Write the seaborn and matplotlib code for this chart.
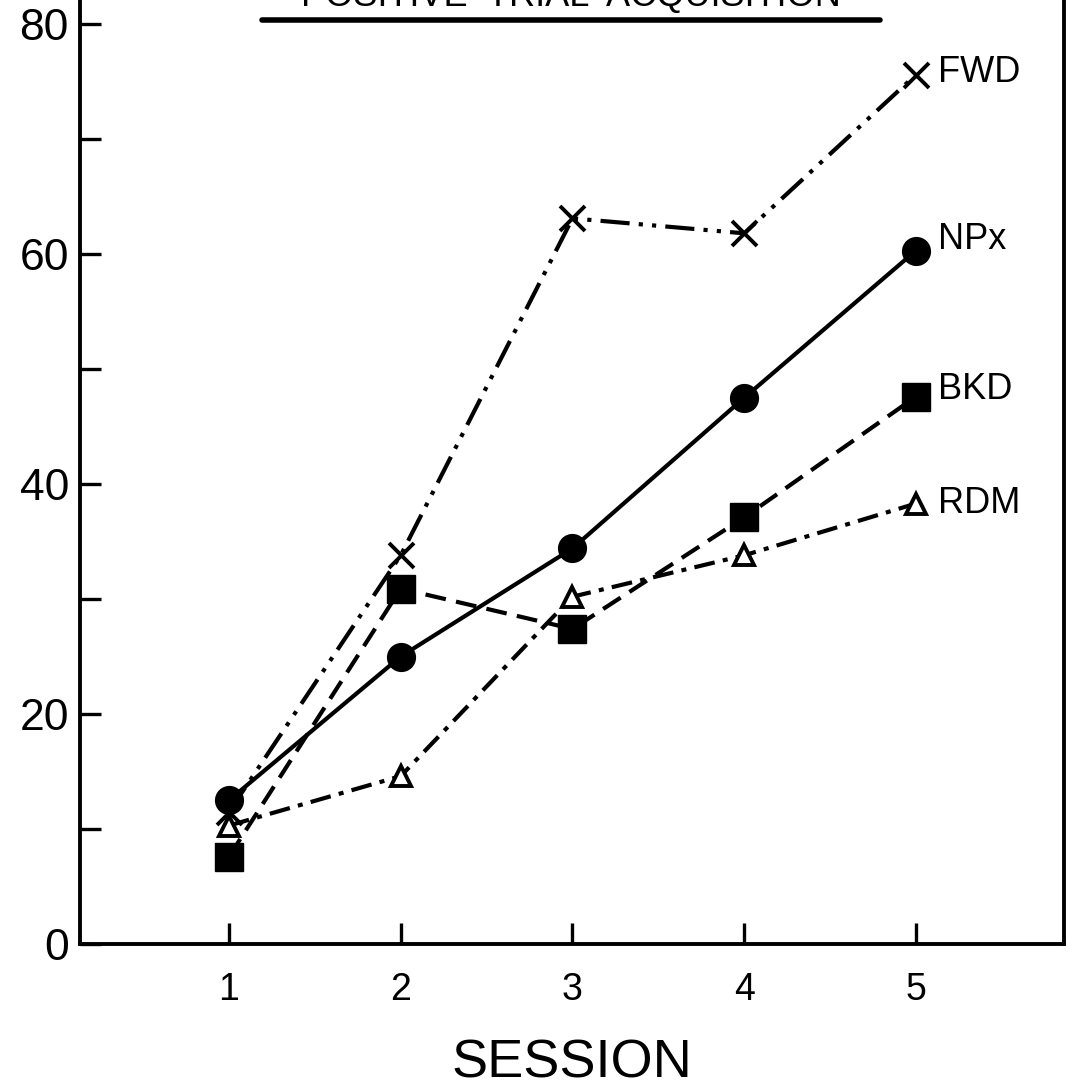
import matplotlib
matplotlib.use("Agg")
import matplotlib.pyplot as plt
from matplotlib.lines import Line2D
import pandas as pd
import seaborn as sns

# Data
sessions = [1, 2, 3, 4, 5]
fwd = [11.5, 33.8, 63.1, 61.8, 75.6]
npx = [12.5, 25.0, 34.4, 47.5, 60.3]
bkd = [7.6, 30.9, 27.4, 37.1, 47.6]
rdm = [10.3, 14.6, 30.2, 33.8, 38.3]

groups = ["FWD", "NPx", "BKD", "RDM"]
values = [fwd, npx, bkd, rdm]

yticks = [0, 20, 40, 60, 80]
yminor = [10, 30, 50, 70]

df = pd.DataFrame({
    "session": sessions * len(groups),
    "score": [v for vals in values for v in vals],
    "group": [g for g in groups for _ in sessions],
})

sns.set_theme(style="white")
plt.rcParams["font.family"] = ["Liberation Sans", "DejaVu Sans"]
plt.rcParams["text.color"] = "black"
plt.rcParams["xtick.color"] = "black"
plt.rcParams["ytick.color"] = "black"
plt.rcParams["axes.labelcolor"] = "black"

fig = plt.figure(figsize=(10.74, 10.87), dpi=100)
ax = fig.add_axes([80 / 1074, 143 / 1087, 984 / 1074, 944 / 1087])

styles = {
    "FWD": dict(marker="x", linestyle=(0, (7, 2.2, 1, 2.2, 1, 2.2)), ms=18, mfc="black", mew=2.8),
    "NPx": dict(marker="o", linestyle="-", ms=20, mfc="black", mew=1),
    "BKD": dict(marker="s", linestyle=(0, (5, 2.5)), ms=20, mfc="black", mew=1),
    "RDM": dict(marker="^", linestyle=(0, (5, 2, 1.2, 2)), ms=15, mfc="white", mew=2.8),
}

for g in groups:
    st = styles[g]
    sns.lineplot(data=df[df["group"] == g], x="session", y="score", ax=ax,
                 color="black", linewidth=3.0, marker=st["marker"],
                 linestyle=st["linestyle"], markersize=st["ms"],
                 markerfacecolor=st["mfc"], markeredgecolor="black",
                 markeredgewidth=st["mew"], legend=False)

# Series labels at the right end
label_offsets = {"FWD": 0.2, "NPx": 1.0, "BKD": 0.6, "RDM": 0.0}
for g, vals in zip(groups, values):
    ax.text(5.13, vals[-1] + label_offsets[g], g, fontsize=26, va="center", ha="left")

ax.set_xlim(0.1325, 5.862)
ax.set_ylim(0, 82.09)
ax.set_xticks(sessions)
ax.set_xticklabels([str(s) for s in sessions])
ax.set_yticks(yticks)
ax.set_yticklabels([str(t) for t in yticks])
ax.set_yticks(yminor, minor=True)

ax.tick_params(axis="both", which="both", direction="in", length=15, width=2.4,
               color="black", left=True, bottom=True)
ax.tick_params(axis="y", labelsize=32, pad=8)
ax.tick_params(axis="x", labelsize=27, pad=20)

for side in ["left", "bottom", "right"]:
    ax.spines[side].set_color("black")
    ax.spines[side].set_linewidth(2.8)
ax.spines["top"].set_visible(False)

ax.set_xlabel("SESSION", fontsize=39, labelpad=22)
ax.set_ylabel("")

# Title cut at the top edge, underlined
fig.text(571 / 1074, 1 - 6 / 1087, "POSITIVE  TRIAL  ACQUISITION", fontsize=26,
         ha="center", va="baseline")
fig.add_artist(Line2D([262 / 1074, 880 / 1074], [1 - 20 / 1087, 1 - 20 / 1087],
                      color="black", linewidth=4, transform=fig.transFigure))

fig.savefig("out.png", dpi=100)
